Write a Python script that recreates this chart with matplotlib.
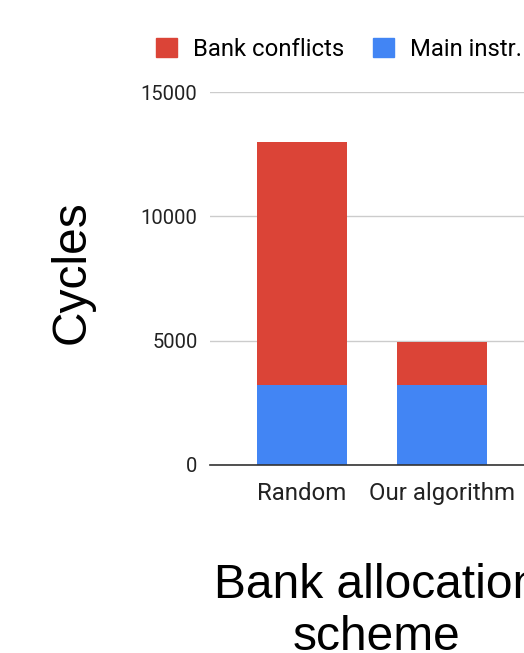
import matplotlib
matplotlib.use("Agg")
import matplotlib.pyplot as plt
from matplotlib.patches import Patch

# Cycle counts per bank allocation scheme
schemes = ["Random", "Our algorithm"]
main_instr = [3200, 3200]
bank_conflicts = [9800, 1750]
yticks = [0, 5000, 10000, 15000]

RED = "#DB4437"
BLUE = "#4285F4"

W, H = 524, 653
fig = plt.figure(figsize=(W / 100, H / 100), dpi=100)
ax = fig.add_axes([210 / W, 1 - 465 / H, 1 - 210 / W, (465 - 92) / H])

x = range(len(schemes))
ax.bar(x, main_instr, width=0.643, color=BLUE, zorder=3)
ax.bar(x, bank_conflicts, bottom=main_instr, width=0.643, color=RED, zorder=3)

ax.set_xlim(-0.657, 1.586)
ax.set_ylim(0, 15000)
ax.set_yticks(yticks)
ax.set_yticklabels([str(v) for v in yticks], family="Roboto", fontsize=14.5, color="#222222")
ax.set_xticks(list(x))
ax.set_xticklabels(schemes, family="Roboto", fontsize=17.3, color="#222222")
ax.tick_params(axis="y", length=0, pad=9)
ax.tick_params(axis="x", length=0, pad=12)
ax.grid(axis="y", color="#CCCCCC", linewidth=1, zorder=0)
for side in ("top", "right", "left"):
    ax.spines[side].set_visible(False)
ax.spines["bottom"].set_color("#333333")
ax.spines["bottom"].set_linewidth(1.2)
ax.spines["bottom"].set_zorder(4)

handles = [Patch(color=RED, label="Bank conflicts"), Patch(color=BLUE, label="Main instr.")]
fig.legend(handles=handles, loc="center left", bbox_to_anchor=(149 / W, 1 - 49 / H),
           ncol=2, frameon=False, handlelength=0.875, handleheight=0.875,
           handletextpad=0.67, columnspacing=1.2, borderpad=0.3, borderaxespad=0,
           prop={"family": "Roboto", "size": 17.2})

fig.text(72 / W, 1 - 272 / H, "Cycles", rotation=90, ha="center", va="center",
         family="Liberation Sans", fontsize=34.5)
fig.text(377 / W, 1 - 612 / H, "Bank allocation\nscheme", ha="center", va="center",
         family="Liberation Sans", fontsize=34.5, linespacing=1.2)

fig.savefig("out.png", dpi=100)
